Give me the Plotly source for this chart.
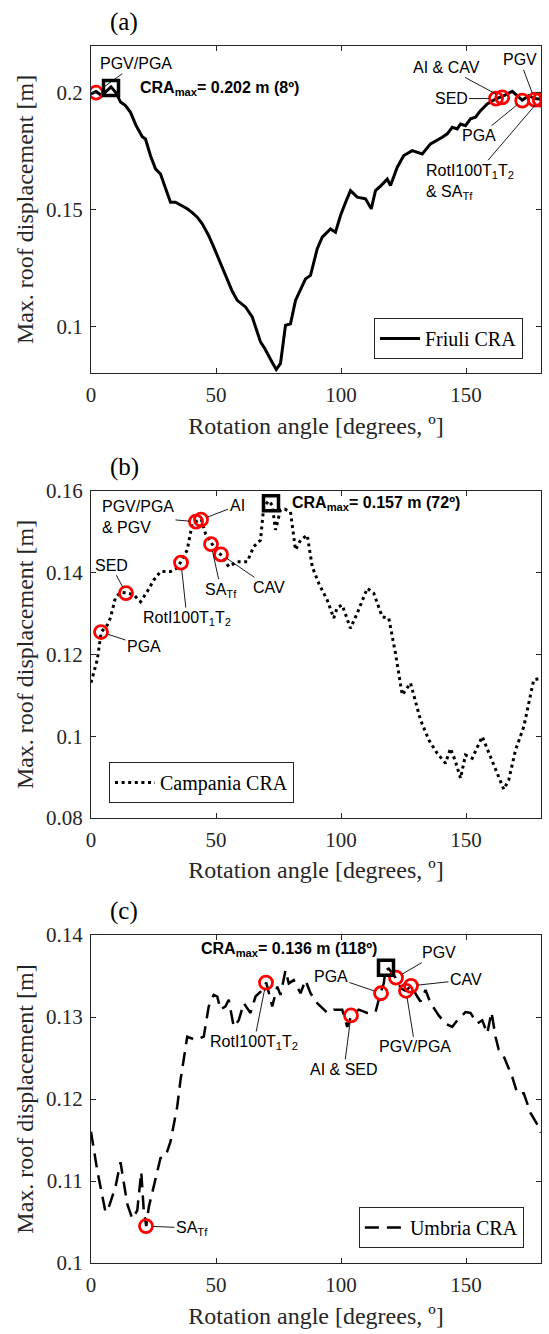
import plotly.graph_objects as go

# ---------------- data ----------------
angle_ticks = [0, 50, 100, 150]
angle_tick_labels = ["0", "50", "100", "150"]

friuli_angle = [0, 2, 4, 6, 8, 10, 11.8, 13.8, 15.8, 18, 20.5, 21.8, 23.8, 25.8, 27.8, 29.8,
                31.8, 33.8, 36, 38.5, 40.5, 42.5, 44.5, 47, 49.1, 52, 54.5, 56.5, 58.5, 61.8,
                64.5, 66.5, 67.8, 69.5, 71.1, 72.5, 74.1, 75.8, 77.8, 79.8, 81.8, 83.1, 85.8,
                87.8, 90.5, 92.5, 95.8, 97.8, 99.8, 101.8, 103.8, 106.5, 109.8, 112.1, 113.8,
                115.8, 118.5, 119.8, 122.5, 125.1, 128.5, 132.5, 135.8, 140.5, 142.5, 144.5,
                146.5, 147.8, 149.8, 151.8, 153.8, 155.8, 158.5, 161.8, 165.1, 168.5, 170.5,
                172.5, 175.1, 177.5, 180]
friuli_disp = [0.1995, 0.2005, 0.199, 0.2005, 0.2025, 0.2, 0.196, 0.1945, 0.1916, 0.186, 0.1812,
               0.1802, 0.173, 0.1674, 0.1652, 0.159, 0.1531, 0.1531, 0.1518, 0.1503, 0.1487,
               0.1467, 0.1439, 0.139, 0.1339, 0.1265, 0.1197, 0.115, 0.1111, 0.1083, 0.104,
               0.098, 0.0933, 0.0905, 0.0876, 0.0845, 0.0815, 0.0841, 0.1004, 0.1011, 0.1111,
               0.1139, 0.1203, 0.1218, 0.1332, 0.1382, 0.1417, 0.1403, 0.1474, 0.153, 0.1581,
               0.1553, 0.1546, 0.1503, 0.1581, 0.16, 0.163, 0.1603, 0.1681, 0.1731, 0.1752,
               0.1738, 0.1781, 0.1809, 0.1824, 0.1852, 0.1845, 0.1866, 0.1859, 0.1888, 0.1895,
               0.1923, 0.1952, 0.1973, 0.1987, 0.2006, 0.1987, 0.1968, 0.1987, 0.1975, 0.1972]

campania_angle = [0, 2.5, 4.1, 6.5, 7.8, 9.8, 12, 14.2, 17.1, 19.8, 22.5, 25.1, 27.8, 31.8, 34,
                  35.8, 38.5, 40.5, 42, 44.1, 45.8, 48.1, 50, 51.8, 55.1, 58.5, 62.5, 65.1, 67.8,
                  69.1, 71.1, 72.5, 73.8, 75.8, 77.5, 79.8, 81.8, 83.8, 86.5, 88.5, 91.1, 94.5,
                  97.1, 98.5, 100.5, 103.8, 106.5, 110.5, 113.1, 116.5, 119.1, 121.8, 124.5,
                  127.8, 131.8, 135.1, 138.5, 141.8, 143.8, 145.8, 147.8, 149.8, 152.5, 156.5,
                  159.8, 162.5, 165.1, 167.1, 169.8, 173.1, 177.1, 180]
campania_disp = [0.1131, 0.1187, 0.1255, 0.1272, 0.129, 0.134, 0.1352, 0.1351, 0.1346, 0.1329,
                 0.1354, 0.1382, 0.1403, 0.1403, 0.141, 0.1425, 0.1456, 0.152, 0.1525, 0.1531,
                 0.1496, 0.1472, 0.1455, 0.1445, 0.1415, 0.1427, 0.1427, 0.1464, 0.148, 0.1562,
                 0.1576, 0.1565, 0.1505, 0.1554, 0.1556, 0.1549, 0.1456, 0.148, 0.1492, 0.1415,
                 0.1374, 0.1333, 0.1289, 0.1315, 0.1321, 0.1264, 0.1301, 0.1362, 0.135, 0.1292,
                 0.1289, 0.1203, 0.1101, 0.113, 0.104, 0.0991, 0.0958, 0.0934, 0.097, 0.0938,
                 0.0897, 0.0954, 0.0946, 0.0999, 0.095, 0.0913, 0.087, 0.0893, 0.0966, 0.1023,
                 0.1138, 0.1142]

umbria_angle = [0, 2.5, 5.8, 7.1, 9.8, 11.8, 14.5, 16.5, 18.5, 20.1, 21.1, 22.1, 23.1, 25.8, 27.8,
                29.8, 31.8, 34.5, 35.8, 38.5, 41.8, 45.1, 47.1, 49.1, 50.5, 51.8, 53.8, 55.1,
                57.1, 59.1, 61.1, 63.8, 65.8, 68.5, 70.1, 72.5, 74.5, 75.8, 77.8, 79.1, 81.1,
                83.8, 85.8, 87.8, 90.5, 94.5, 97.1, 100.5, 102.5, 104.2, 107.1, 110.5, 113.8,
                115.8, 117.1, 117.8, 119.1, 121.8, 124, 125.8, 128.1, 130.5, 131.8, 133.8, 135.8,
                139.1, 141.8, 144.5, 146.5, 149.8, 151.8, 154.5, 156.5, 158.5, 160.2, 161.8,
                163.1, 165.1, 168.5, 170.5, 173.1, 175.8, 179.1, 180]
umbria_disp = [0.116, 0.1113, 0.1062, 0.1068, 0.1093, 0.1123, 0.1072, 0.1054, 0.1064, 0.1111,
               0.1064, 0.1045, 0.1068, 0.1103, 0.1128, 0.113, 0.1148, 0.1191, 0.1223, 0.1276,
               0.1272, 0.1276, 0.1313, 0.1327, 0.1325, 0.1309, 0.1313, 0.1321, 0.1288, 0.1296,
               0.1317, 0.1305, 0.1325, 0.1333, 0.1342, 0.1313, 0.1337, 0.1327, 0.1357, 0.1341,
               0.1345, 0.1329, 0.1345, 0.1329, 0.1317, 0.1305, 0.1309, 0.1309, 0.1288, 0.1302,
               0.1309, 0.1305, 0.1306, 0.1329, 0.1341, 0.1357, 0.1359, 0.1348, 0.1335, 0.1332,
               0.1338, 0.1325, 0.1319, 0.1333, 0.1317, 0.1302, 0.1292, 0.1288, 0.1296, 0.1306,
               0.1305, 0.1292, 0.1296, 0.128, 0.1306, 0.1276, 0.126, 0.1252, 0.1227, 0.1207,
               0.1207, 0.1183, 0.1166, 0.1159]

# identified rotation angles (red circles)
friuli_ids = ["PGV/PGA", "SED", "AI & CAV", "PGA", "PGV",
              "RotI100T<sub>1</sub>T<sub>2</sub><br>& SA<sub>Tf</sub>"]
friuli_id_angle = [2, 162, 164.5, 172.5, 177.5, 179.5]
friuli_id_disp = [0.2, 0.1975, 0.198, 0.1966, 0.197, 0.197]

campania_ids = ["PGA", "SED", "RotI100T<sub>1</sub>T<sub>2</sub>", "PGV/PGA<br>& PGV", "AI",
                "SA<sub>Tf</sub>", "CAV"]
campania_id_angle = [4, 14, 36, 42, 44, 48, 52]
campania_id_disp = [0.1255, 0.135, 0.1425, 0.1525, 0.153, 0.147, 0.1445]

umbria_ids = ["SA<sub>Tf</sub>", "RotI100T<sub>1</sub>T<sub>2</sub>", "AI & SED", "PGA", "PGV",
              "PGV/PGA", "CAV"]
umbria_id_angle = [22, 70, 104, 116, 122, 126, 128]
umbria_id_disp = [0.1045, 0.1342, 0.1302, 0.1329, 0.1348, 0.1332, 0.1338]

# CRA maxima (black squares)
cra_max_angle = [8, 72, 118]
cra_max_disp = [0.202, 0.157, 0.136]
cra_max_labels = ["CRA<sub>max</sub>= 0.202 m (8º)", "CRA<sub>max</sub>= 0.157 m (72º)",
                  "CRA<sub>max</sub>= 0.136 m (118º)"]

series_names = ["Friuli CRA", "Campania CRA", "Umbria CRA"]
panel_letters = ["(a)", "(b)", "(c)"]
y_ranges = [[0.08, 0.22], [0.08, 0.16], [0.1, 0.14]]
y_ticks = [[0.1, 0.15, 0.2], [0.08, 0.1, 0.12, 0.14, 0.16], [0.1, 0.11, 0.12, 0.13, 0.14]]
y_tick_labels = [["0.1", "0.15", "0.2"], ["0.08", "0.1", "0.12", "0.14", "0.16"],
                 ["0.1", "0.11", "0.12", "0.13", "0.14"]]

# ---------------- layout helpers (positions / styles) ----------------
W, H = 549, 1334
ML, MR, MT, MB = 91, 8, 46, 71
domains = [[0.7313, 1.0], [0.3657, 0.6343], [0.0, 0.2695]]
dashes = ["solid", "3px,3.6px", "14px,8px"]
widths = [3, 3, 2.5]
label_offsets = [
    [(40, -29), (-45, 0), (-56, -30), (-43, 35), (-15, -40), (-70, 82)],
    [(43, 14), (-15, -28), (6, 56), (-58, -5), (36, -14), (10, 46), (48, 33)],
    [(46, 2), (-12, 60), (-7, 54), (-50, -17), (43, -25), (9, 56), (55, -6)],
]
label_align = [
    ["center"] * 5 + ["left"],
    ["center", "center", "center", "left", "center", "center", "center"],
    ["center"] * 7,
]
max_label_pos = [("left", 27, 0), ("left", 19, 0), ("right", -7, 18)]
legend_pos = [(0.96, 0.7428, "right"), (0.04, 0.378, "left"), (0.962, 0.0123, "right")]

SERIF = "Liberation Serif"
SANS = "Liberation Sans"
AX = "#262626"

angles = [friuli_angle, campania_angle, umbria_angle]
disps = [friuli_disp, campania_disp, umbria_disp]
ids = [friuli_ids, campania_ids, umbria_ids]
id_angles = [friuli_id_angle, campania_id_angle, umbria_id_angle]
id_disps = [friuli_id_disp, campania_id_disp, umbria_id_disp]

fig = go.Figure()
annotations = []
layout = {}

for i in range(3):
    sfx = "" if i == 0 else str(i + 1)
    xa, ya = "x" + sfx, "y" + sfx
    leg = "legend" + sfx
    fig.add_trace(go.Scatter(
        x=angles[i], y=disps[i], mode="lines", name=series_names[i],
        line=dict(color="black", width=widths[i], dash=dashes[i]),
        xaxis=xa, yaxis=ya, legend=leg, showlegend=True))
    fig.add_trace(go.Scatter(
        x=id_angles[i], y=id_disps[i], mode="markers", showlegend=False,
        marker=dict(symbol="circle-open", size=13, color="#ff0000",
                    line=dict(width=2.8, color="#ff0000")),
        xaxis=xa, yaxis=ya, hoverinfo="skip"))
    fig.add_trace(go.Scatter(
        x=[cra_max_angle[i]], y=[cra_max_disp[i]], mode="markers", showlegend=False,
        marker=dict(symbol="square-open", size=15, color="black",
                    line=dict(width=3.5, color="black")),
        xaxis=xa, yaxis=ya, hoverinfo="skip"))

    for k, txt in enumerate(ids[i]):
        ax, ay = label_offsets[i][k]
        annotations.append(dict(
            x=id_angles[i][k], y=id_disps[i][k], xref=xa, yref=ya,
            text=txt, showarrow=True, arrowhead=0, arrowwidth=0.9, arrowcolor="black",
            ax=ax, ay=ay, standoff=7, align=label_align[i][k],
            font=dict(family=SANS, size=16, color="black")))

    anc, xs, ys = max_label_pos[i]
    annotations.append(dict(
        x=cra_max_angle[i], y=cra_max_disp[i], xref=xa, yref=ya,
        text="<b>" + cra_max_labels[i] + "</b>", showarrow=False,
        xanchor=anc, yanchor="middle", xshift=xs, yshift=ys,
        font=dict(family=SANS, size=16, color="black")))

    annotations.append(dict(
        x=(124 - ML) / (W - ML - MR), y=domains[i][1], xref="paper", yref="paper",
        text=panel_letters[i], showarrow=False, xanchor="center", yanchor="middle",
        yshift=24, font=dict(family=SERIF, size=25, color="black")))

    layout["xaxis" + sfx] = dict(
        domain=[0, 1], anchor=ya, range=[0, 180], tickmode="array",
        tickvals=angle_ticks, ticktext=angle_tick_labels,
        showline=True, linecolor=AX, linewidth=1, mirror="ticks",
        ticks="inside", ticklen=5, tickcolor=AX, showgrid=False, zeroline=False,
        ticklabelstandoff=3,
        tickfont=dict(family=SERIF, size=21, color=AX),
        title=dict(text="Rotation angle [degrees, º]", standoff=10,
                   font=dict(family=SERIF, size=24, color=AX)))
    layout["yaxis" + sfx] = dict(
        domain=domains[i], anchor=xa, range=y_ranges[i], tickmode="array",
        tickvals=y_ticks[i], ticktext=y_tick_labels[i],
        showline=True, linecolor=AX, linewidth=1, mirror="ticks",
        ticks="inside", ticklen=5, tickcolor=AX, showgrid=False, zeroline=False,
        ticklabelstandoff=3,
        tickfont=dict(family=SERIF, size=21, color=AX),
        title=dict(text="Max. roof displacement [m]", standoff=5,
                   font=dict(family=SERIF, size=24, color=AX)))
    lx, ly, lanc = legend_pos[i]
    layout[leg] = dict(
        x=lx, y=ly, xanchor=lanc, yanchor="bottom", xref="paper", yref="paper",
        bgcolor="white", bordercolor=AX, borderwidth=1,
        font=dict(family=SERIF, size=20, color="black"),
        itemwidth=40, tracegroupgap=0)

fig.update_layout(
    width=W, height=H, margin=dict(l=ML, r=MR, t=MT, b=MB),
    paper_bgcolor="white", plot_bgcolor="white",
    annotations=annotations, **layout)

fig.write_html("out.html")
